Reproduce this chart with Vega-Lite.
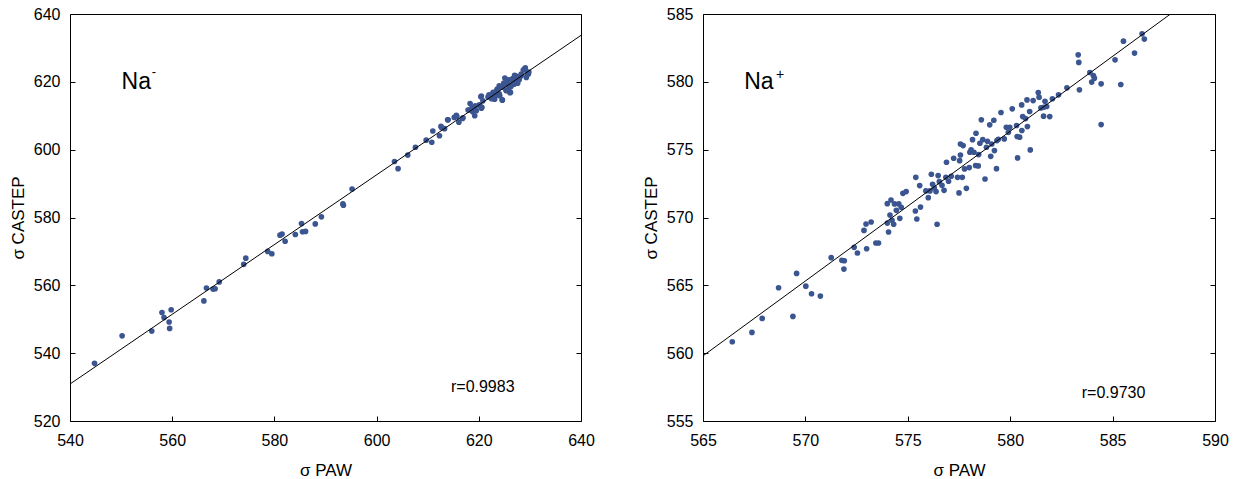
{
  "$schema": "https://vega.github.io/schema/vega-lite/v6.json",
  "background": "white",
  "padding": {"left": 8, "top": 5, "right": 0, "bottom": 0},
  "spacing": 46,
  "config": {
    "font": "Liberation Sans",
    "view": {"stroke": "black", "strokeWidth": 1},
    "axis": {
      "labelFont": "Liberation Sans", "labelFontSize": 16, "labelColor": "black", "labelFlush": false,
      "titleFont": "Liberation Sans", "titleFontSize": 17, "titleFontWeight": "normal", "titleColor": "black",
      "grid": false, "domain": false, "tickColor": "black", "tickSize": -5, "labelPadding": 15
    },
    "axisX": {"titlePadding": 14, "labelPadding": 16},
    "axisY": {"titlePadding": 6}
  },
  "datasets": {
    "neg": [
      {"paw":544.8,"castep":537.0},{"paw":550.2,"castep":545.1},{"paw":556.0,"castep":546.5},{"paw":558.0,"castep":552.0},
      {"paw":558.4,"castep":550.5},{"paw":559.4,"castep":549.2},{"paw":559.5,"castep":547.3},{"paw":559.8,"castep":552.8},
      {"paw":566.2,"castep":555.4},{"paw":566.7,"castep":559.2},{"paw":568.0,"castep":558.9},{"paw":568.4,"castep":559.0},
      {"paw":569.2,"castep":561.0},{"paw":574.0,"castep":566.2},{"paw":574.4,"castep":568.0},{"paw":578.7,"castep":570.0},
      {"paw":579.5,"castep":569.3},{"paw":581.1,"castep":574.8},{"paw":581.5,"castep":575.1},{"paw":582.1,"castep":573.0},
      {"paw":584.1,"castep":575.0},{"paw":585.3,"castep":578.2},{"paw":585.5,"castep":575.8},{"paw":586.1,"castep":575.9},
      {"paw":588.0,"castep":578.1},{"paw":589.2,"castep":580.2},{"paw":593.4,"castep":584.0},{"paw":593.5,"castep":583.6},
      {"paw":595.2,"castep":588.4},{"paw":603.5,"castep":596.5},{"paw":604.2,"castep":594.4},{"paw":606.1,"castep":598.4},
      {"paw":607.6,"castep":600.7},{"paw":609.7,"castep":602.8},{"paw":610.8,"castep":602.2},{"paw":611.0,"castep":605.5},
      {"paw":612.3,"castep":604.1},{"paw":612.7,"castep":606.5},{"paw":613.3,"castep":606.2},{"paw":614.0,"castep":608.8},
      {"paw":615.2,"castep":609.5},{"paw":615.7,"castep":609.8},{"paw":616.1,"castep":608.1},{"paw":616.8,"castep":609.2},
      {"paw":618.1,"castep":611.7},{"paw":618.3,"castep":613.6},{"paw":618.7,"castep":612.5},{"paw":619.2,"castep":610.0},
      {"paw":619.5,"castep":611.5},{"paw":620.2,"castep":613.0},{"paw":620.5,"castep":612.2},{"paw":620.4,"castep":615.6},
      {"paw":620.8,"castep":614.4},{"paw":622.0,"castep":616.2},{"paw":622.4,"castep":615.4},{"paw":622.8,"castep":616.9},
      {"paw":623.1,"castep":614.9},{"paw":623.5,"castep":617.4},{"paw":624.1,"castep":615.9},{"paw":624.4,"castep":618.4},
      {"paw":624.6,"castep":614.6},{"paw":625.0,"castep":619.3},{"paw":625.4,"castep":617.4},{"paw":625.7,"castep":620.3},
      {"paw":626.0,"castep":618.4},{"paw":626.2,"castep":616.9},{"paw":626.6,"castep":620.8},{"paw":626.9,"castep":619.3},
      {"paw":627.2,"castep":621.8},{"paw":627.5,"castep":620.3},{"paw":628.0,"castep":621.3},{"paw":628.3,"castep":622.3},
      {"paw":629.0,"castep":623.8},{"paw":629.3,"castep":621.3},{"paw":629.7,"castep":622.3},
      {"paw":616.9,"castep":609.4},{"paw":617.9,"castep":611.7},{"paw":618.8,"castep":611.2},{"paw":620.1,"castep":613.2},
      {"paw":619.3,"castep":612.9},{"paw":620.5,"castep":615.8},{"paw":620.6,"castep":612.5},{"paw":621.8,"castep":615.5},
      {"paw":622.5,"castep":615.0},{"paw":623.3,"castep":616.0},{"paw":624.0,"castep":616.5},{"paw":624.6,"castep":614.7},
      {"paw":624.3,"castep":618.6},{"paw":624.9,"castep":619.6},{"paw":625.3,"castep":617.6},{"paw":625.6,"castep":620.1},
      {"paw":626.1,"castep":616.8},{"paw":626.3,"castep":618.6},{"paw":626.6,"castep":620.9},{"paw":627.0,"castep":621.9},
      {"paw":627.3,"castep":620.1},{"paw":627.6,"castep":621.5},{"paw":627.9,"castep":620.6},{"paw":628.3,"castep":621.9},
      {"paw":628.7,"castep":623.5},{"paw":629.1,"castep":624.1},{"paw":629.5,"castep":622.4},{"paw":629.8,"castep":622.9},
      {"paw":623.6,"castep":617.9},{"paw":623.0,"castep":616.7},{"paw":625.1,"castep":621.1},{"paw":625.8,"castep":619.1},
      {"paw":627.6,"castep":619.6},{"paw":626.8,"castep":619.9},{"paw":624.0,"castep":618.8},{"paw":625.9,"castep":620.6},
      {"paw":613.9,"castep":608.8},{"paw":612.6,"castep":606.9},{"paw":615.6,"castep":610.1}
    ],
    "pos": [
      {"paw":566.43,"castep":560.84},{"paw":567.39,"castep":561.53},{"paw":567.89,"castep":562.56},{"paw":568.69,"castep":564.82},
      {"paw":569.39,"castep":562.71},{"paw":569.57,"castep":565.88},{"paw":570.02,"castep":564.94},{"paw":570.30,"castep":564.38},
      {"paw":570.73,"castep":564.21},{"paw":571.26,"castep":567.04},{"paw":571.78,"castep":566.84},{"paw":571.90,"castep":566.81},
      {"paw":571.88,"castep":566.20},{"paw":572.38,"castep":567.80},{"paw":572.54,"castep":567.38},{"paw":572.86,"castep":569.05},
      {"paw":572.96,"castep":569.52},{"paw":572.99,"castep":567.70},{"paw":573.21,"castep":569.67},{"paw":573.44,"castep":568.12},
      {"paw":573.57,"castep":568.12},{"paw":574.00,"castep":571.02},{"paw":574.06,"castep":568.93},{"paw":574.00,"castep":569.59},
      {"paw":574.13,"castep":570.18},{"paw":574.18,"castep":571.29},{"paw":574.23,"castep":569.79},{"paw":574.31,"castep":569.50},
      {"paw":574.35,"castep":571.00},{"paw":574.44,"castep":570.53},{"paw":574.56,"castep":571.00},{"paw":574.61,"castep":569.94},
      {"paw":574.68,"castep":570.75},{"paw":574.76,"castep":571.78},{"paw":574.92,"castep":571.91},{"paw":575.39,"castep":572.96},
      {"paw":575.37,"castep":570.48},{"paw":575.44,"castep":569.89},{"paw":575.58,"castep":572.35},{"paw":575.62,"castep":570.77},
      {"paw":575.88,"castep":571.96},{"paw":576.00,"castep":571.46},{"paw":576.08,"castep":571.96},{"paw":576.15,"castep":573.19},
      {"paw":576.21,"castep":572.45},{"paw":576.29,"castep":572.18},{"paw":576.38,"castep":571.91},{"paw":576.43,"castep":569.50},
      {"paw":576.48,"castep":573.09},{"paw":576.54,"castep":572.64},{"paw":576.67,"castep":572.37},{"paw":576.77,"castep":572.00},
      {"paw":576.86,"castep":572.96},{"paw":576.89,"castep":574.07},{"paw":576.99,"castep":572.67},{"paw":577.12,"castep":573.04},
      {"paw":577.24,"castep":574.37},{"paw":577.43,"castep":572.96},{"paw":577.50,"castep":571.81},{"paw":577.53,"castep":574.19},
      {"paw":577.57,"castep":574.61},{"paw":577.57,"castep":575.42},{"paw":577.66,"castep":572.96},{"paw":577.70,"castep":575.30},
      {"paw":577.77,"castep":573.58},{"paw":577.86,"castep":572.15},{"paw":578.00,"castep":573.68},{"paw":578.03,"castep":574.81},
      {"paw":578.09,"castep":574.98},{"paw":578.16,"castep":575.74},{"paw":578.23,"castep":574.81},{"paw":578.33,"castep":576.21},
      {"paw":578.31,"castep":573.83},{"paw":578.44,"castep":573.80},{"paw":578.46,"castep":574.64},{"paw":578.52,"castep":575.47},
      {"paw":578.59,"castep":577.20},{"paw":578.66,"castep":575.74},{"paw":578.77,"castep":572.84},{"paw":578.84,"castep":575.18},
      {"paw":578.89,"castep":575.62},{"paw":579.00,"castep":576.83},{"paw":579.05,"castep":574.51},{"paw":579.10,"castep":575.42},
      {"paw":579.20,"castep":577.17},{"paw":579.23,"castep":574.93},{"paw":579.33,"castep":573.60},{"paw":579.35,"castep":575.67},
      {"paw":579.42,"castep":575.77},{"paw":579.55,"castep":577.74},{"paw":579.71,"castep":575.79},{"paw":579.81,"castep":576.65},
      {"paw":579.91,"castep":576.28},{"paw":579.98,"castep":576.65},{"paw":580.10,"castep":578.01},{"paw":580.31,"castep":576.78},
      {"paw":580.34,"castep":575.97},{"paw":580.36,"castep":574.39},{"paw":580.46,"castep":575.92},{"paw":580.56,"castep":578.30},
      {"paw":580.57,"castep":576.41},{"paw":580.61,"castep":577.44},{"paw":580.75,"castep":577.29},{"paw":580.82,"castep":578.67},
      {"paw":580.84,"castep":576.70},{"paw":580.95,"castep":577.81},{"paw":580.98,"castep":574.98},{"paw":581.12,"castep":578.62},
      {"paw":581.37,"castep":579.21},{"paw":581.41,"castep":578.87},{"paw":581.50,"castep":578.08},{"paw":581.63,"castep":578.13},
      {"paw":581.63,"castep":577.47},{"paw":581.70,"castep":578.57},{"paw":581.78,"castep":578.18},{"paw":581.93,"castep":577.44},
      {"paw":582.06,"castep":578.75},{"paw":582.36,"castep":579.04},{"paw":582.77,"castep":579.56},{"paw":583.32,"castep":581.99},
      {"paw":583.35,"castep":581.43},{"paw":583.38,"castep":579.41},{"paw":583.89,"castep":580.69},{"paw":583.98,"castep":579.98},
      {"paw":584.06,"castep":580.47},{"paw":584.11,"castep":580.27},{"paw":584.44,"castep":579.85},{"paw":584.44,"castep":576.85},
      {"paw":585.12,"castep":581.62},{"paw":585.40,"castep":579.80},{"paw":585.53,"castep":583.00},{"paw":586.07,"castep":582.12},
      {"paw":586.44,"castep":583.54},{"paw":586.55,"castep":583.15}
    ],
    "fitNeg": [{"paw":540,"castep":530.9},{"paw":640,"castep":633.7}],
    "fitPos": [{"paw":565,"castep":559.8},{"paw":590,"castep":587.4}],
    "one": [{"n": 1}]
  },
  "hconcat": [
    {
      "width": 511, "height": 407,
      "resolve": {"axis": {"y": "independent"}},
      "layer": [
        {
          "data": {"name": "neg"},
          "mark": {"type": "circle", "size": 32, "color": "#3b5591", "opacity": 1},
          "encoding": {
            "x": {"field": "paw", "type": "quantitative", "scale": {"domain": [540, 640], "nice": false, "zero": false},
                  "axis": {"values": [540, 560, 580, 600, 620, 640], "title": "σ PAW"}},
            "y": {"field": "castep", "type": "quantitative", "scale": {"domain": [520, 640], "nice": false, "zero": false},
                  "axis": {"values": [520, 540, 560, 580, 600, 620, 640], "title": "σ CASTEP", "orient": "left"}}
          }
        },
        {
          "data": {"name": "fitNeg"},
          "mark": {"type": "line", "color": "black", "strokeWidth": 1, "clip": true},
          "encoding": {
            "x": {"field": "paw", "type": "quantitative"},
            "y": {"field": "castep", "type": "quantitative",
                  "axis": {"orient": "right", "labels": false, "title": null, "values": [520, 540, 560, 580, 600, 620, 640]}}
          }
        },
        {
          "data": {"name": "one"},
          "mark": {"type": "text", "align": "left", "baseline": "alphabetic", "fontSize": 23, "color": "black"},
          "encoding": {"text": {"value": "Na"}, "x": {"datum": 550.1, "type": "quantitative"}, "y": {"datum": 617.9, "type": "quantitative", "axis": null}}
        },
        {
          "data": {"name": "one"},
          "mark": {"type": "text", "align": "left", "baseline": "alphabetic", "fontSize": 13, "color": "black"},
          "encoding": {"text": {"value": "-"}, "x": {"datum": 556.0, "type": "quantitative"}, "y": {"datum": 621.6, "type": "quantitative", "axis": null}}
        },
        {
          "data": {"name": "one"},
          "mark": {"type": "text", "align": "right", "baseline": "alphabetic", "fontSize": 16, "color": "black"},
          "encoding": {"text": {"value": "r=0.9983"}, "x": {"datum": 627.0, "type": "quantitative"}, "y": {"datum": 528.6, "type": "quantitative", "axis": null}}
        }
      ]
    },
    {
      "width": 512, "height": 407,
      "resolve": {"axis": {"y": "independent"}},
      "layer": [
        {
          "data": {"name": "pos"},
          "mark": {"type": "circle", "size": 32, "color": "#3b5591", "opacity": 1},
          "encoding": {
            "x": {"field": "paw", "type": "quantitative", "scale": {"domain": [565, 590], "nice": false, "zero": false},
                  "axis": {"values": [565, 570, 575, 580, 585, 590], "title": "σ PAW"}},
            "y": {"field": "castep", "type": "quantitative", "scale": {"domain": [555, 585], "nice": false, "zero": false},
                  "axis": {"values": [555, 560, 565, 570, 575, 580, 585], "title": "σ CASTEP", "orient": "left"}}
          }
        },
        {
          "data": {"name": "fitPos"},
          "mark": {"type": "line", "color": "black", "strokeWidth": 1, "clip": true},
          "encoding": {
            "x": {"field": "paw", "type": "quantitative"},
            "y": {"field": "castep", "type": "quantitative",
                  "axis": {"orient": "right", "labels": false, "title": null, "values": [555, 560, 565, 570, 575, 580, 585]}}
          }
        },
        {
          "data": {"name": "one"},
          "mark": {"type": "text", "align": "left", "baseline": "alphabetic", "fontSize": 23, "color": "black"},
          "encoding": {"text": {"value": "Na"}, "x": {"datum": 567.01, "type": "quantitative"}, "y": {"datum": 579.46, "type": "quantitative", "axis": null}}
        },
        {
          "data": {"name": "one"},
          "mark": {"type": "text", "align": "left", "baseline": "alphabetic", "fontSize": 14, "color": "black"},
          "encoding": {"text": {"value": "+"}, "x": {"datum": 568.56, "type": "quantitative"}, "y": {"datum": 580.23, "type": "quantitative", "axis": null}}
        },
        {
          "data": {"name": "one"},
          "mark": {"type": "text", "align": "right", "baseline": "alphabetic", "fontSize": 16, "color": "black"},
          "encoding": {"text": {"value": "r=0.9730"}, "x": {"datum": 586.6, "type": "quantitative"}, "y": {"datum": 556.66, "type": "quantitative", "axis": null}}
        }
      ]
    }
  ]
}
